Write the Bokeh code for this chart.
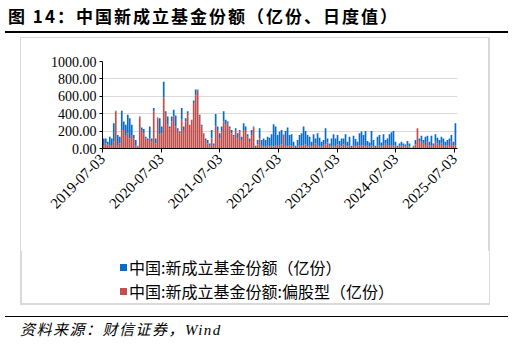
import math
import pandas as pd
from bokeh.plotting import figure
from bokeh.layouts import column
from bokeh.models import (Range1d, FixedTicker, DatetimeTickFormatter, NumeralTickFormatter,
                          ColumnDataSource, Div)
from bokeh.embed import file_html
from bokeh.resources import INLINE

title_text = "图 14：中国新成立基金份额（亿份、日度值）"
source_text = "资料来源：财信证券，Wind"
series_names = ["中国:新成立基金份额（亿份）", "中国:新成立基金份额:偏股型（亿份）"]
tick_dates = ["2019-07-03", "2020-07-03", "2021-07-03", "2022-07-03",
              "2023-07-03", "2024-07-03", "2025-07-03"]
y_ticks = [0, 200, 400, 600, 800, 1000]
first_date = "2019-07-11"
last_date = "2025-07-09"

total_shares = [
    116, 116, 78, 136, 116, 291, 435, 155, 136, 435, 310, 272, 388, 349, 272, 155, 97, 31, 369, 240,
    225, 136, 116, 252, 116, 466, 116, 357, 349, 252,
    768, 427, 369, 252, 369, 446, 380, 233, 194, 466, 252, 349, 427, 272, 330, 551, 679, 679, 388, 272,
    175, 116, 97, 58, 213, 58, 396, 252, 175, 252,
    427, 330, 310, 252, 213, 155, 233, 175, 213, 136, 291, 252, 163, 116, 213, 252, 31, 97, 233, 97,
    116, 97, 136, 124, 163, 279, 252, 155, 194, 213,
    160, 202, 240, 155, 163, 78, 31, 97, 155, 175, 252, 202, 155, 136, 78, 163, 116, 175, 124, 78,
    97, 233, 116, 58, 116, 163, 116, 155, 85, 116,
    116, 163, 78, 136, 31, 147, 109, 78, 175, 194, 155, 202, 85, 70, 202, 97, 31, 136, 155, 70,
    163, 97, 116, 163, 186, 202, 78, 31, 58, 78,
    58, 47, 85, 58, 8, 31, 97, 233, 116, 147, 97, 136, 147, 78, 147, 58, 163, 124, 97, 136,
    116, 78, 97, 116, 155, 78, 291,
]
equity_shares = [
    31, 58, 47, 31, 39, 78, 427, 31, 58, 213, 213, 155, 175, 116, 155, 116, 31, 23, 357, 213,
    175, 116, 97, 116, 78, 427, 58, 349, 163, 175,
    590, 407, 272, 233, 310, 369, 252, 213, 175, 330, 213, 310, 407, 272, 330, 524, 613, 667, 369, 252,
    175, 97, 58, 31, 116, 31, 252, 213, 116, 194,
    310, 272, 291, 233, 175, 136, 213, 116, 194, 97, 213, 213, 136, 85, 155, 240, 16, 47, 116, 31,
    19, 19, 31, 23, 31, 23, 31, 39, 31, 47,
    155, 31, 23, 31, 39, 23, 16, 23, 31, 39, 31, 47, 23, 31, 23, 39, 58, 31, 23, 19,
    31, 47, 70, 31, 27, 31, 23, 47, 31, 23,
    47, 31, 23, 31, 16, 31, 23, 31, 31, 31, 31, 23, 31, 19, 31, 23, 16, 31, 31, 23,
    31, 54, 31, 39, 31, 31, 31, 16, 31, 31,
    31, 23, 31, 23, 8, 19, 47, 233, 78, 85, 54, 39, 78, 31, 31, 39, 78, 58, 31, 58,
    39, 31, 31, 39, 85, 31, 31,
]

BLUE = "#0A6CC4"
RED = "#C0504D"
GREY = "#D9D9D9"
SERIF = "Liberation Serif"
CJK = "Noto Sans CJK SC"

dates = pd.date_range(first_date, last_date, periods=len(total_shares))
src = ColumnDataSource(dict(date=dates, total=total_shares, equity=equity_shares))
step_ms = (dates[1] - dates[0]).total_seconds() * 1000

x_start = pd.Timestamp(tick_dates[0])
x_end = pd.Timestamp(tick_dates[-1]) + pd.Timedelta(days=19)

W = 513
TOP_H = 38
FIG_H = 213
LEG_H = 50
FOOT_H = 348 - TOP_H - FIG_H - LEG_H
FIG_Y0 = TOP_H
FL, FR = 102, 457
FT, FB = 61 - FIG_Y0, 148 - FIG_Y0


def vline(x, top, h):
    return (f'<div style="position:absolute;left:{x}px;top:{top}px;width:1.5px;height:{h}px;'
            f'background:{GREY};"></div>')


title_div = Div(
    text=(f'<div style="position:relative;width:{W}px;height:{TOP_H}px;">'
          f'<div style="position:absolute;left:8px;top:4px;font-family:\'{CJK}\';font-size:17px;'
          f'letter-spacing:2px;font-weight:bold;color:black;white-space:nowrap;line-height:24px;">{title_text}</div>'
          f'<div style="position:absolute;left:5px;top:31px;width:503px;height:1.5px;background:black;"></div>'
          f'<div style="position:absolute;left:20px;top:36.5px;width:470px;height:1.5px;background:{GREY};"></div>'
          + vline(20, 37, 1) + vline(488.5, 37, 1) +
          f'</div>'),
    width=W, height=TOP_H, margin=(0, 0, 0, 0))

leg_y0 = FIG_Y0 + FIG_H
rows = ""
for name, color, cy in [(series_names[0], BLUE, 267), (series_names[1], RED, 291)]:
    top = cy - leg_y0
    rows += (f'<div style="position:absolute;left:120px;top:{top - 3.5}px;width:7px;height:7px;'
             f'background:{color};"></div>'
             f'<div style="position:absolute;left:129px;top:{top - 12}px;font-family:\'{CJK}\';'
             f'font-size:16px;line-height:24px;color:black;white-space:nowrap;">{name}</div>')
legend_div = Div(
    text=(f'<div style="position:relative;width:{W}px;height:{LEG_H}px;">'
          + vline(20, 0, LEG_H) + vline(488.5, 0, LEG_H) +
          f'{rows}</div>'),
    width=W, height=LEG_H, margin=(0, 0, 0, 0))

foot_y0 = leg_y0 + LEG_H
footer_div = Div(
    text=(f'<div style="position:relative;width:{W}px;height:{FOOT_H}px;">'
          + vline(20, 0, 303 - foot_y0) + vline(488.5, 0, 303 - foot_y0) +
          f'<div style="position:absolute;left:20px;top:{303 - foot_y0}px;width:470px;height:1.5px;background:{GREY};"></div>'
          f'<div style="position:absolute;left:5px;top:{315.5 - foot_y0}px;width:503px;height:1.5px;background:black;"></div>'
          f'<div style="position:absolute;left:20px;top:{319 - foot_y0}px;font-family:\'{SERIF}\',\'{CJK}\';font-size:15px;'
          f'letter-spacing:1.5px;font-style:italic;color:black;white-space:nowrap;line-height:22px;">{source_text}</div>'
          f'</div>'),
    width=W, height=FOOT_H, margin=(0, 0, 0, 0))

p = figure(width=W, height=FIG_H, x_axis_type="datetime", output_backend="svg", toolbar_location=None,
           x_range=Range1d(x_start, x_end), y_range=Range1d(0, 1000),
           min_border_left=FL, min_border_right=W - FR, min_border_top=FT, min_border_bottom=FIG_H - FB,
           margin=(0, 0, 0, 0))
p.outline_line_color = None
p.background_fill_color = "white"
p.border_fill_color = None
p.border_fill_alpha = 0
p.styles = {"background": (f"linear-gradient(to right, white 0px, white 20px, {GREY} 20px, {GREY} 21.5px, "
                           f"white 21.5px, white 488.5px, {GREY} 488.5px, {GREY} 490px, white 490px)")}

r_total = p.vbar(x="date", top="total", bottom="equity", width=step_ms * 0.85, source=src,
                 fill_color=BLUE, line_color=None)
r_eq = p.vbar(x="date", top="equity", width=step_ms * 0.85, source=src, fill_color=RED, line_color=None)

p.xgrid.visible = False
p.ygrid.grid_line_color = GREY
p.ygrid.grid_line_width = 1

tick_ms = [pd.Timestamp(d).value // 10**6 for d in tick_dates]
p.xaxis.ticker = FixedTicker(ticks=tick_ms)
fmt = "%Y-%m-%d"
p.xaxis.formatter = DatetimeTickFormatter(days=fmt, months=fmt, years=fmt, hours=fmt, minutes=fmt,
                                          seconds=fmt, milliseconds=fmt, microseconds=fmt,
                                          hourmin=fmt, minsec=fmt)
p.xaxis.major_label_orientation = math.pi / 4
p.xaxis.major_tick_out = 4
p.xaxis.major_tick_in = 0
p.xaxis.minor_tick_line_color = None
p.xaxis.axis_line_color = "black"
p.xaxis.major_tick_line_color = "black"
p.xaxis.major_label_text_font = SERIF
p.xaxis.major_label_text_font_size = "15px"
p.xaxis.major_label_text_color = "black"
p.xaxis.major_label_standoff = 4

p.yaxis.ticker = FixedTicker(ticks=y_ticks)
p.yaxis.formatter = NumeralTickFormatter(format="0.00")
p.yaxis.major_tick_out = 3
p.yaxis.major_tick_in = 0
p.yaxis.minor_tick_line_color = None
p.yaxis.axis_line_color = "black"
p.yaxis.major_tick_line_color = "black"
p.yaxis.major_label_text_font = SERIF
p.yaxis.major_label_text_font_size = "14px"
p.yaxis.major_label_text_color = "black"
p.yaxis.major_label_standoff = 3

layout = column(title_div, p, legend_div, footer_div, spacing=0, margin=(0, 0, 0, 0))

open("out.html", "w").write(file_html(layout, INLINE))
